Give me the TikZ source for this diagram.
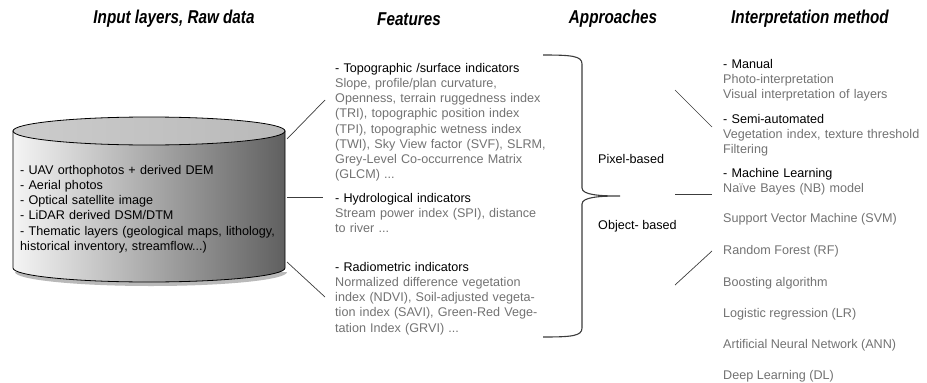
\documentclass[tikz,border=0pt]{standalone}
\usepackage{fontspec}
\setmainfont{Liberation Sans}
\newfontfamily\headfont[FakeStretch=0.82]{Liberation Sans}
\definecolor{txtgray}{HTML}{727272}
\definecolor{linegray}{HTML}{3c3c3c}

\begin{document}
\begin{tikzpicture}[x=1pt,y=-1pt,
  every node/.style={inner sep=0pt,font=\fontsize{12.6}{15.1}\selectfont},
  head/.style={font=\headfont\fontsize{18.6}{20}\selectfont\bfseries\itshape},
  block/.style={anchor=north west,align=left,text width=#1},
  link/.style={draw=linegray,line width=0.7pt}]
\useasboundingbox (0,0) rectangle (927,383);

% column titles
\node[head] (hinput) at (174,19) {Input layers, Raw data};
\node[head] (hfeat)  at (409,19) {Features};
\node[head] (happr)  at (613,19) {Approaches};
\node[head] (hinter) at (810,19) {Interpretation method};

% data cylinder
\fill[gray!55] (15,272) arc[start angle=180,end angle=0,x radius=136,y radius=14] -- cycle;
\shade[left color=gray!8,right color=gray!75!black,draw=black,line width=0.8pt]
  (13,131) -- (13,268) arc[start angle=180,end angle=0,x radius=136,y radius=14] -- (285,131) -- cycle;
\shade[left color=gray!40,right color=gray!55,draw=black,line width=0.8pt]
  (149,131) ellipse[x radius=136,y radius=14];
\node[block=275pt] (raw) at (20,165.3) {- UAV orthophotos + derived DEM\\
- Aerial photos\\
- Optical satellite image\\
- LiDAR derived DSM/DTM\\
- Thematic layers (geological maps, lithology,\\
historical inventory, streamflow...)};

% features
\node[block=240pt] (topo) at (335,63.3) {- Topographic /surface indicators\\
\color{txtgray}Slope, profile/plan curvature,\\
Openness, terrain ruggedness index\\
(TRI), topographic position index\\
(TPI), topographic wetness index\\
(TWI), Sky View factor (SVF), SLRM,\\
Grey-Level Co-occurrence Matrix\\
(GLCM) ...};
\node[block=240pt] (hydro) at (335,193.3) {- Hydrological indicators\\
\color{txtgray}Stream power index (SPI), distance\\
to river ...};
\node[block=240pt] (radio) at (335,262.3) {- Radiometric indicators\\
\color{txtgray}Normalized difference vegetation\\
index (NDVI), Soil-adjusted vegeta-\\
tion index (SAVI), Green-Red Vege-\\
tation Index (GRVI) ...};

\coordinate (c1) at (287,139);
\coordinate (c2) at (287,197);
\coordinate (c3) at (287,262);
\coordinate (f1) at (325,100);
\coordinate (f2) at (323,197);
\coordinate (f3) at (325,297);
\draw[link] (c1) -- (f1);
\draw[link] (c2) -- (f2);
\draw[link] (c3) -- (f3);

% brace and approaches
\draw[draw=linegray,line width=1.1pt] (543,55) .. controls (572,55) and (582,56) .. (582,64)
  -- (582,188) .. controls (582,195) and (600,196) .. (620,196)
  .. controls (600,196) and (582,197) .. (582,204)
  -- (582,328) .. controls (582,336) and (572,337) .. (543,337);
\node[anchor=west] (pixel) at (598,159) {Pixel-based};
\node[anchor=west] (object) at (598,226) {Object- based};

% interpretation methods
\node[block=210pt] (manual) at (723,58.8) {- Manual\\
\color{txtgray}Photo-interpretation\\
Visual interpretation of layers};
\node[block=210pt] (semi) at (723,113.8) {- Semi-automated\\
\color{txtgray}Vegetation index, texture threshold\\
Filtering};
\node[block=210pt] (ml) at (723,168.3) {- Machine Learning\\
\color{txtgray}Naïve Bayes (NB) model};
\node[anchor=west,text=txtgray] (svm)   at (723,219) {Support Vector Machine (SVM)};
\node[anchor=west,text=txtgray] (rf)    at (723,251) {Random Forest (RF)};
\node[anchor=west,text=txtgray] (boost) at (723,283) {Boosting algorithm};
\node[anchor=west,text=txtgray] (lr)    at (723,314) {Logistic regression (LR)};
\node[anchor=west,text=txtgray] (ann)   at (723,345) {Artificial Neural Network (ANN)};
\node[anchor=west,text=txtgray] (dl)    at (723,376) {Deep Learning (DL)};

\coordinate (a1) at (675,90);
\coordinate (a2) at (675,194);
\coordinate (a3) at (675,285);
\coordinate (m1) at (712,127);
\coordinate (m2) at (712,194);
\coordinate (m3) at (712,251);
\draw[link] (a1) -- (m1);
\draw[link] (a2) -- (m2);
\draw[link] (a3) -- (m3);
\end{tikzpicture}
\end{document}
